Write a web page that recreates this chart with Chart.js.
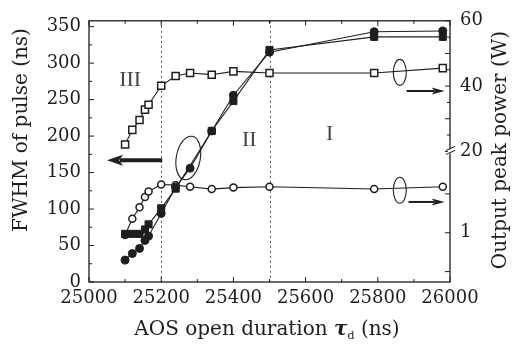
<!DOCTYPE html>
<html>
<head>
<meta charset="utf-8">
<script src="https://cdn.jsdelivr.net/npm/chart.js@4/dist/chart.umd.min.js"></script>
<style>
  html, body { margin: 0; padding: 0; background: #fff; }
  #wrap { width: 514px; height: 348px; }
</style>
</head>
<body>
<div id="wrap"><canvas id="myChart"></canvas></div>
<script>
// AOS open duration (ns)
const durations = [25100, 25120, 25140, 25155, 25165, 25200, 25240, 25280, 25340, 25400, 25500, 25790, 25980];
const squareDurations = [25100, 25120, 25140, 25155, 25165, 25200, 25240, 25340, 25400, 25500, 25790, 25980];

// FWHM of pulse (ns), left axis
const fwhmCircles = [30, 39, 46, 57, 63, 94, 130, 156, 207, 256, 315, 343, 344];
const fwhmSquares = [66, 66, 66, 72, 79, 101, 128, 207, 248, 318, 336, 336];

// output peak power (W), right axis
const powerSquares = [22.1, 26.6, 29.6, 32.8, 34.3, 40.1, 43.1, 44.0, 43.5, 44.5, 44.0, 44.0, 45.5];
const powerCircles = [0.88, 2.3, 4.5, 8.3, 11.5, 17.5, 16.8, 15.3, 13.3, 14.5, 15.3, 13.3, 15.3];

const xTicks = [25000, 25200, 25400, 25600, 25800, 26000];
const leftTicks = [0, 50, 100, 150, 200, 250, 300, 350];
const upperPowerTicks = [20, 30, 40, 50, 60];
const lowerPowerTicks = [0.1, 1, 10];

const ink = '#1e1e1e';
const serif = 'DejaVu Serif';

const pts = (xs, ys) => xs.map((x, i) => ({ x: x, y: ys[i] }));

const decor = {
  id: 'decor',
  beforeDatasetsDraw(chart) {
    const ctx = chart.ctx, a = chart.chartArea, sx = chart.scales.x;
    ctx.save();
    ctx.strokeStyle = '#555';
    ctx.lineWidth = 1;
    ctx.setLineDash([2, 3]);
    [25200, 25500].forEach(v => {
      const px = Math.round(sx.getPixelForValue(v)) + 0.5;
      ctx.beginPath(); ctx.moveTo(px, a.top); ctx.lineTo(px, a.bottom); ctx.stroke();
    });
    ctx.restore();
  },
  afterDatasetsDraw(chart) {
    const ctx = chart.ctx, a = chart.chartArea;
    const sx = chart.scales.x, sy = chart.scales.y, sp = chart.scales.yPow, sl = chart.scales.yLow;
    ctx.save();
    // frame
    ctx.strokeStyle = ink;
    ctx.lineWidth = 1.3;
    ctx.strokeRect(a.left, a.top, a.right - a.left, a.bottom - a.top);

    // inward ticks
    ctx.lineWidth = 1;
    ctx.beginPath();
    for (let v = 25000; v <= 26000; v += 100) {
      const px = sx.getPixelForValue(v), len = v % 200 === 0 ? 5 : 3;
      ctx.moveTo(px, a.bottom); ctx.lineTo(px, a.bottom - len);
      ctx.moveTo(px, a.top); ctx.lineTo(px, a.top + len);
    }
    for (let v = 0; v <= 350; v += 25) {
      const py = sy.getPixelForValue(v), len = v % 50 === 0 ? 5 : 3;
      ctx.moveTo(a.left, py); ctx.lineTo(a.left + len, py);
    }
    for (let v = 20; v <= 60; v += 5) {
      const py = sp.getPixelForValue(v), len = v % 10 === 0 ? 5 : 3;
      ctx.moveTo(a.right, py); ctx.lineTo(a.right - len, py);
    }
    lowerPowerTicks.forEach(v => {
      const py = sl.getPixelForValue(v);
      ctx.moveTo(a.right, py); ctx.lineTo(a.right - 5, py);
    });
    ctx.stroke();

    // axis break
    const by = sp.bottom;
    ctx.fillStyle = '#fff';
    ctx.fillRect(a.right - 2, by - 2, 4, 4);
    ctx.beginPath();
    ctx.moveTo(a.right - 4, by - 1); ctx.lineTo(a.right + 5, by - 5);
    ctx.moveTo(a.right - 4, by + 3); ctx.lineTo(a.right + 5, by - 1);
    ctx.stroke();

    // region labels
    ctx.fillStyle = '#444';
    ctx.font = '22px "Liberation Serif"';
    ctx.textAlign = 'center';
    ctx.textBaseline = 'middle';
    ctx.fillText('III', sx.getPixelForValue(25114), sy.getPixelForValue(276));
    ctx.fillText('II', sx.getPixelForValue(25444), sy.getPixelForValue(195));
    ctx.fillText('I', sx.getPixelForValue(25667), sy.getPixelForValue(202));

    // ellipses
    ctx.strokeStyle = ink;
    ctx.lineWidth = 1.1;
    const ell = (cx, cy, rx, ry, rot) => {
      ctx.beginPath(); ctx.ellipse(cx, cy, rx, ry, rot, 0, Math.PI * 2); ctx.stroke();
    };
    ell(sx.getPixelForValue(25275), sy.getPixelForValue(170), 12, 22, 0.18);
    ell(sx.getPixelForValue(25861), sp.getPixelForValue(44.2), 6.5, 13, 0);
    ell(sx.getPixelForValue(25861), sl.getPixelForValue(12.4), 6.5, 13, 0);

    // arrows
    ctx.fillStyle = ink;
    const arrow = (x1, x2, y, shaft, headLen, headHalf) => {
      const dir = Math.sign(x2 - x1);
      ctx.lineWidth = shaft;
      ctx.beginPath(); ctx.moveTo(x1, y); ctx.lineTo(x2 - dir * headLen * 0.8, y); ctx.stroke();
      ctx.beginPath();
      ctx.moveTo(x2, y);
      ctx.lineTo(x2 - dir * headLen, y - headHalf);
      ctx.lineTo(x2 - dir * headLen * 0.75, y);
      ctx.lineTo(x2 - dir * headLen, y + headHalf);
      ctx.closePath(); ctx.fill();
    };
    arrow(sx.getPixelForValue(25203), sx.getPixelForValue(25050), sy.getPixelForValue(167), 4, 16, 5.5);
    arrow(sx.getPixelForValue(25880), sx.getPixelForValue(25985), sp.getPixelForValue(38.5), 2, 13, 3.5);
    arrow(sx.getPixelForValue(25885), sx.getPixelForValue(25985), sl.getPixelForValue(6.2), 2, 13, 3.5);

    // axis titles
    ctx.fillStyle = ink;
    ctx.font = '20px "' + serif + '"';
    ctx.textAlign = 'center';
    ctx.textBaseline = 'middle';
    ctx.save();
    ctx.translate(22, 130); ctx.rotate(-Math.PI / 2);
    ctx.fillText('FWHM of pulse (ns)', 0, 0);
    ctx.restore();
    ctx.save();
    ctx.translate(501, 150); ctx.rotate(-Math.PI / 2);
    ctx.fillText('Output peak power (W)', 0, 0);
    ctx.restore();

    // x title with subscript
    const parts = [
      { t: 'AOS open duration ', f: '20px "' + serif + '"', dy: 0 },
      { t: 'τ', f: 'italic bold 20px "' + serif + '"', dy: 0 },
      { t: 'd', f: '11px "' + serif + '"', dy: 4 },
      { t: ' (ns)', f: '20px "' + serif + '"', dy: 0 }
    ];
    let total = 0;
    parts.forEach(p => { ctx.font = p.f; p.w = ctx.measureText(p.t).width; total += p.w; });
    let cx = 267 - total / 2;
    ctx.textAlign = 'left';
    ctx.textBaseline = 'alphabetic';
    parts.forEach(p => { ctx.font = p.f; ctx.fillText(p.t, cx, 335 + p.dy); cx += p.w; });
    ctx.restore();
  }
};

const tickFont = { family: serif, size: 18 };

const data = {
  datasets: [
    {
      label: 'FWHM (filled circles)',
      data: pts(durations, fwhmCircles),
      yAxisID: 'y',
      borderColor: ink, backgroundColor: ink,
      pointStyle: 'circle', pointRadius: 4, pointBorderWidth: 1,
      borderWidth: 1.1
    },
    {
      label: 'FWHM (filled squares)',
      data: pts(squareDurations, fwhmSquares),
      yAxisID: 'y',
      borderColor: ink, backgroundColor: ink,
      pointStyle: 'rect', pointRadius: 5, pointBorderWidth: 1,
      borderWidth: 1.1
    },
    {
      label: 'Power (open squares)',
      data: pts(durations, powerSquares),
      yAxisID: 'yPow',
      borderColor: ink, backgroundColor: '#fff',
      pointStyle: 'rect', pointRadius: 5, pointBorderWidth: 1.5,
      borderWidth: 1.1
    },
    {
      label: 'Power (open circles)',
      data: pts(durations, powerCircles),
      yAxisID: 'yLow',
      borderColor: ink, backgroundColor: '#fff',
      pointStyle: 'circle', pointRadius: 3.5, pointBorderWidth: 1.5,
      borderWidth: 1.1
    }
  ]
};

const config = {
  type: 'line',
  data: data,
  options: {
    responsive: true,
    maintainAspectRatio: false,
    animation: false,
    layout: { padding: { top: 14, left: 0, right: 0, bottom: 0 } },
    plugins: { legend: { display: false }, tooltip: { enabled: false } },
    scales: {
      x: {
        type: 'linear', min: 25000, max: 26000,
        afterBuildTicks: s => { s.ticks = xTicks.map(v => ({ value: v })); },
        ticks: { font: tickFont, color: ink, padding: 6, maxRotation: 0, autoSkip: false, callback: v => String(v) },
        grid: { display: false, drawTicks: false },
        border: { display: false },
        afterFit: s => { s.height = 66; }
      },
      y: {
        position: 'left', min: 0, max: 358,
        afterBuildTicks: s => { s.ticks = leftTicks.map(v => ({ value: v })); },
        ticks: { font: tickFont, color: ink, padding: 8 },
        grid: { display: false, drawTicks: false },
        border: { display: false },
        afterFit: s => { s.width = 89; }
      },
      yPow: {
        position: 'right', stack: 'power', stackWeight: 1, min: 20, max: 60,
        afterBuildTicks: s => { s.ticks = upperPowerTicks.map(v => ({ value: v })); },
        ticks: { font: tickFont, color: ink, padding: 10 },
        grid: { display: false, drawTicks: false },
        border: { display: false },
        afterFit: s => { s.width = 64; }
      },
      yLow: {
        type: 'logarithmic', position: 'right', stack: 'power', stackWeight: 1,
        min: 0.054, max: 124,
        afterBuildTicks: s => { s.ticks = lowerPowerTicks.map(v => ({ value: v })); },
        ticks: { font: tickFont, color: ink, padding: 10, callback: v => (v === 1 ? '1' : '') },
        grid: { display: false, drawTicks: false },
        border: { display: false },
        afterFit: s => { s.width = 64; }
      }
    }
  },
  plugins: [decor]
};

const myChart = new Chart(document.getElementById('myChart'), config);
</script>
</body>
</html>
